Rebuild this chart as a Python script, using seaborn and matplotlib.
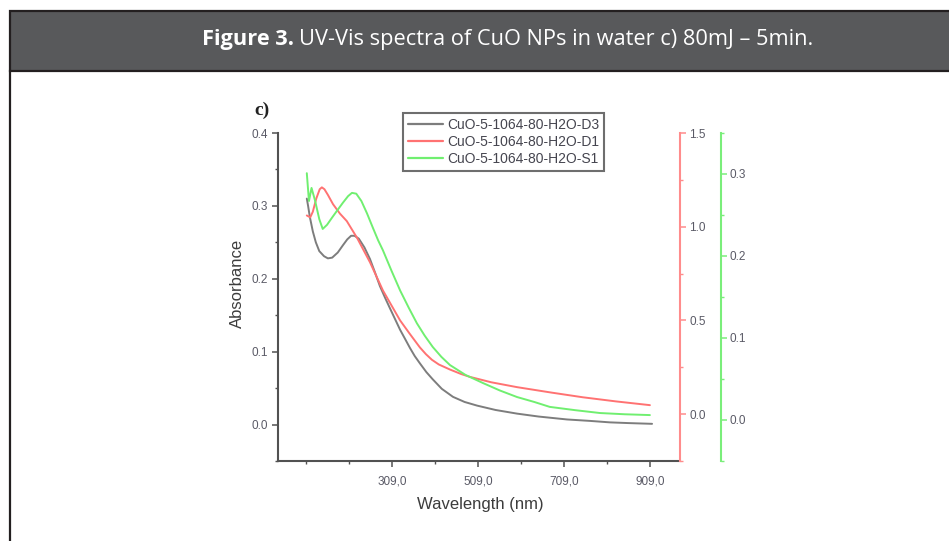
import numpy as np
import pandas as pd
import matplotlib
matplotlib.use("Agg")
import matplotlib.pyplot as plt
import seaborn as sns
from matplotlib.patches import Rectangle
from matplotlib.lines import Line2D
from matplotlib.ticker import FixedLocator, MultipleLocator, FormatStrFormatter

# ---------------- data ----------------
wl_d3 = [111, 114, 118, 125, 132, 140, 151, 160, 170, 183, 195, 205, 214, 222, 232,
         245, 258, 270, 281, 293, 304, 316, 328, 340, 351, 362, 374, 389, 404, 425,
         451, 478, 507, 550, 600, 650, 716, 770, 816, 860, 914]
abs_d3 = [0.31, 0.30, 0.285, 0.265, 0.25, 0.238, 0.231, 0.228, 0.229, 0.236, 0.246,
          0.254, 0.259, 0.259, 0.255, 0.243, 0.227, 0.208, 0.19, 0.174, 0.16, 0.145,
          0.13, 0.117, 0.105, 0.094, 0.084, 0.072, 0.062, 0.049, 0.038, 0.031, 0.026,
          0.020, 0.015, 0.011, 0.007, 0.005, 0.003, 0.002, 0.001]

wl_d1 = [111, 119, 125, 133, 141, 146, 152, 160, 172, 188, 204, 216, 228, 243, 258,
         273, 288, 308, 328, 350, 374, 388, 402, 418, 444, 470, 490, 540, 600, 680,
         753, 830, 909]
abs_d1 = [1.06, 1.05, 1.08, 1.15, 1.20, 1.21, 1.20, 1.17, 1.12, 1.07, 1.03, 0.985,
          0.94, 0.875, 0.81, 0.735, 0.66, 0.58, 0.50, 0.43, 0.356, 0.32, 0.29, 0.265,
          0.238, 0.214, 0.199, 0.17, 0.144, 0.115, 0.09, 0.068, 0.048]

wl_s1 = [111, 116, 122, 130, 140, 148, 158, 170, 181, 195, 207, 216, 226, 238, 251,
         265, 277, 288, 308, 328, 348, 367, 385, 404, 424, 444, 480, 521, 560, 600,
         640, 676, 735, 793, 850, 909]
abs_s1 = [0.301, 0.267, 0.283, 0.268, 0.245, 0.233, 0.238, 0.247, 0.255, 0.265, 0.273,
          0.277, 0.276, 0.267, 0.252, 0.234, 0.219, 0.207, 0.182, 0.158, 0.137, 0.118,
          0.103, 0.089, 0.077, 0.067, 0.055, 0.045, 0.036, 0.028, 0.022, 0.016, 0.012,
          0.0085, 0.007, 0.006]

series_names = ["CuO-5-1064-80-H2O-D3", "CuO-5-1064-80-H2O-D1", "CuO-5-1064-80-H2O-S1"]
x_major = [309, 509, 709, 909]
x_major_labels = ["309,0", "509,0", "709,0", "909,0"]
x_minor = [109, 209, 409, 609, 809]
left_ticks = [0.0, 0.1, 0.2, 0.3, 0.4]
red_ticks = [0.0, 0.5, 1.0, 1.5]
green_ticks = [0.0, 0.1, 0.2, 0.3]

title_bold = "Figure 3."
title_rest = "UV-Vis spectra of CuO NPs in water c) 80mJ \u2013 5min."

# ---------------- style ----------------
sns.set_theme(style="white")
plt.rcParams['font.family'] = ['Liberation Sans', 'DejaVu Sans']

W, H = 949, 541
fig = plt.figure(figsize=(W / 100, H / 100), dpi=100)
fig.patch.set_facecolor("white")


def fx(px):
    return px / W


def fy(py):
    return 1 - py / H


# header band
fig.patches.append(Rectangle((fx(10), fy(70.5)), fx(1000) - fx(10), fy(11) - fy(70.5),
                             transform=fig.transFigure, facecolor='#58595b',
                             edgecolor='#231f20', linewidth=1.6, zorder=0))
# left border of the panel
fig.lines.append(Line2D([fx(10), fx(10)], [fy(70), fy(545)], transform=fig.transFigure,
                        color='#231f20', linewidth=1.6))

# title (bold + regular), fitted to the measured width and centred
renderer = fig.canvas.get_renderer()
tfam = ['Open Sans', 'DejaVu Sans']
t1 = fig.text(0, fy(39), title_bold, fontweight='bold', fontsize=13, color='white',
              family=tfam, va='center', ha='left')
t2 = fig.text(0, fy(39), title_rest, fontsize=13, color='white', family=tfam,
              va='center', ha='left')
gap = 5
w1 = t1.get_window_extent(renderer).width
w2 = t2.get_window_extent(renderer).width
scale = 609 / (w1 + w2 + gap)
fs = 13 * scale
t1.set_fontsize(fs)
t2.set_fontsize(fs)
w1 = t1.get_window_extent(renderer).width
w2 = t2.get_window_extent(renderer).width
x0 = 508 - (w1 + w2 + gap) / 2
t1.set_x(fx(x0))
t2.set_x(fx(x0 + w1 + gap))

# ---------------- axes ----------------
L, R, T, B = 278, 680, 133, 461
ax = fig.add_axes([fx(L), fy(B), (R - L) / W, (B - T) / H])
ax.set_facecolor('none')
ax2 = ax.twinx()
ax3 = ax.twinx()

c_gray = '#7d7d7d'
c_red = '#ff7272'
c_green = '#70ef70'
lw = 1.4

sns.lineplot(x=wl_d3, y=abs_d3, ax=ax, color=c_gray, linewidth=lw, legend=False)
sns.lineplot(x=wl_d1, y=abs_d1, ax=ax2, color=c_red, linewidth=lw, legend=False)
sns.lineplot(x=wl_s1, y=abs_s1, ax=ax3, color=c_green, linewidth=lw, legend=False)

ax.set_xlim(44, 979)
ax.set_ylim(-0.05, 0.4)
ax2.set_ylim(-0.25, 1.5)
ax3.set_ylim(-0.05, 0.35)

tick_lab_col = '#5a5a66'
spine_col = '#525252'

# main axis
for s in ['top', 'right']:
    ax.spines[s].set_visible(False)
for s in ['left', 'bottom']:
    ax.spines[s].set_color(spine_col)
    ax.spines[s].set_linewidth(1.5)
ax.xaxis.set_major_locator(FixedLocator(x_major))
ax.set_xticklabels(x_major_labels)
ax.xaxis.set_minor_locator(FixedLocator(x_minor))
ax.yaxis.set_major_locator(FixedLocator(left_ticks))
ax.yaxis.set_major_formatter(FormatStrFormatter('%.1f'))
ax.yaxis.set_minor_locator(MultipleLocator(0.05))
ax.tick_params(axis='both', which='major', direction='out', length=4.5, width=1.1,
               color=spine_col, labelsize=8.5, labelcolor=tick_lab_col, pad=3,
               bottom=True, left=True)
ax.tick_params(axis='both', which='minor', direction='out', length=2.5, width=1.0,
               color=spine_col, bottom=True, left=True)
ax.tick_params(axis='x', pad=6)
ax.set_xlabel("")
ax.set_ylabel("")

# red axis
for s in ['top', 'left', 'bottom']:
    ax2.spines[s].set_visible(False)
ax2.spines['right'].set_color('#ff8c8c')
ax2.spines['right'].set_linewidth(1.5)
ax2.yaxis.set_major_locator(FixedLocator(red_ticks))
ax2.yaxis.set_major_formatter(FormatStrFormatter('%.1f'))
ax2.yaxis.set_minor_locator(MultipleLocator(0.25))
ax2.tick_params(axis='y', which='major', direction='out', length=4.5, width=1.1,
                color='#ff8c8c', labelsize=8.5, labelcolor=tick_lab_col, pad=2, right=True)
ax2.tick_params(axis='y', which='minor', direction='out', length=2.5, width=1.0,
                color='#ff8c8c', right=True)
ax2.set_ylabel("")

# green axis (offset)
for s in ['top', 'left', 'bottom']:
    ax3.spines[s].set_visible(False)
ax3.spines['right'].set_position(('outward', 29.5))
ax3.spines['right'].set_color('#7aee7a')
ax3.spines['right'].set_linewidth(1.5)
ax3.yaxis.set_major_locator(FixedLocator(green_ticks))
ax3.yaxis.set_major_formatter(FormatStrFormatter('%.1f'))
ax3.yaxis.set_minor_locator(MultipleLocator(0.05))
ax3.tick_params(axis='y', which='major', direction='out', length=4.5, width=1.1,
                color='#7aee7a', labelsize=8.5, labelcolor=tick_lab_col, pad=2, right=True)
ax3.tick_params(axis='y', which='minor', direction='out', length=2.5, width=1.0,
                color='#7aee7a', right=True)
ax3.set_ylabel("")

# labels
fig.text(fx(237), fy(283), "Absorbance", rotation=90, ha='center', va='center',
         fontsize=12, color='#3c3c3c')
fig.text(fx(480), fy(505), "Wavelength (nm)", ha='center', va='center',
         fontsize=12, color='#3c3c3c')
fig.text(fx(262), fy(110), "c)", ha='center', va='center', fontsize=14,
         fontweight='bold', family=['Liberation Serif', 'DejaVu Serif'], color='#222222')

# legend
handles = [Line2D([], [], color=c, linewidth=1.6) for c in (c_gray, c_red, c_green)]
leg = fig.legend(handles, series_names, loc='upper left',
                 bbox_to_anchor=(fx(403), fy(113)), bbox_transform=fig.transFigure,
                 frameon=True, fancybox=False, fontsize=10, handlelength=2.5,
                 handletextpad=0.3, labelspacing=0.22, borderpad=0.35, borderaxespad=0)
leg.get_frame().set_edgecolor('#4a4a4a')
leg.get_frame().set_linewidth(1.5)
for t in leg.get_texts():
    t.set_color('#45454f')

fig.savefig("out.png", dpi=100, facecolor='white')
